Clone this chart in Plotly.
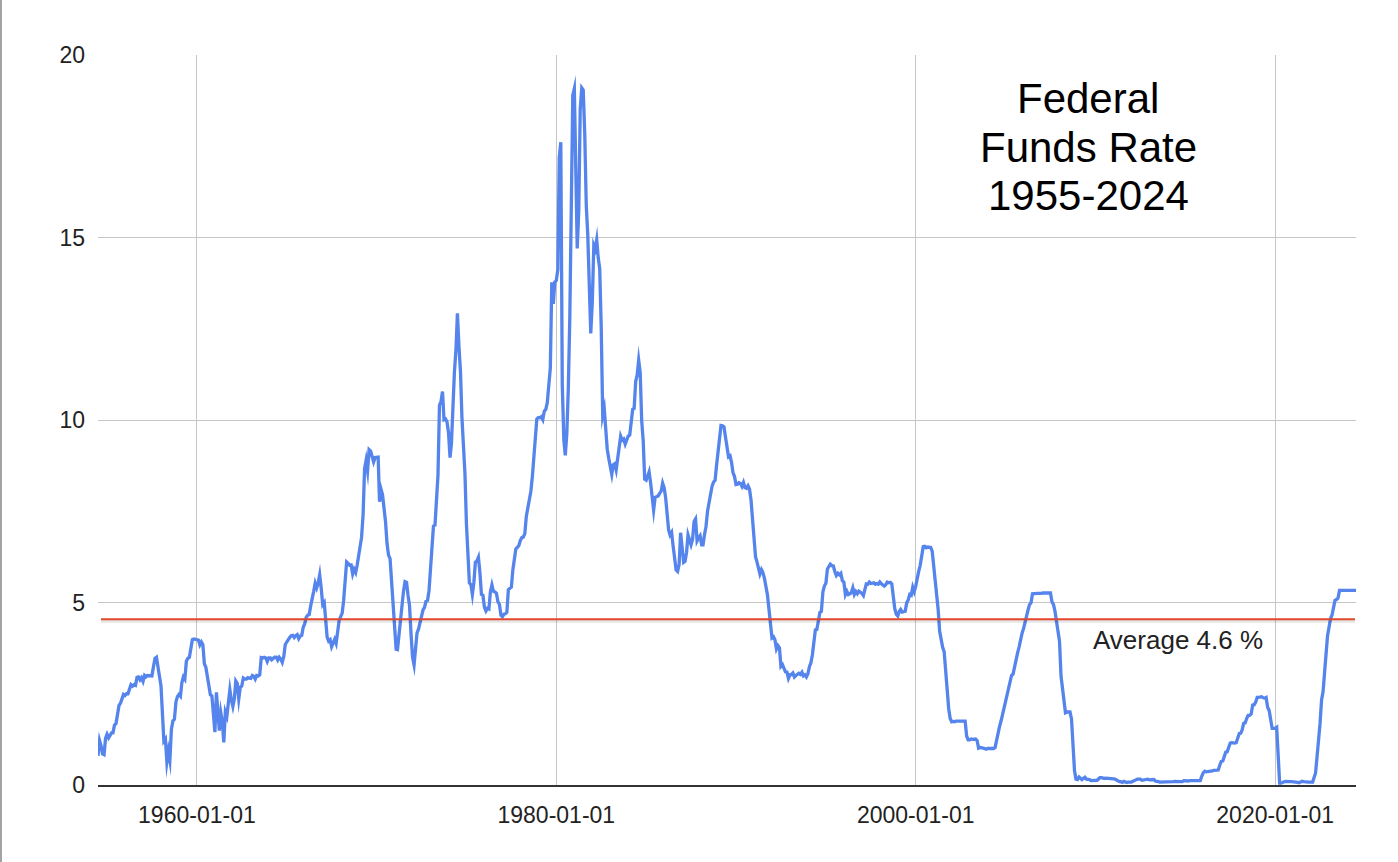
import pandas as pd
import plotly.graph_objects as go

# Monthly effective federal funds rate (%), Jul 1954 - Jul 2024
rate_1950s = [
    0.80, 1.22, 1.07, 0.85, 0.83, 1.28,
    1.39, 1.29, 1.35, 1.43, 1.43, 1.64, 1.68, 1.96, 2.18, 2.24, 2.35, 2.48,
    2.45, 2.50, 2.50, 2.62, 2.75, 2.71, 2.75, 2.73, 2.95, 2.96, 2.88, 2.94,
    2.84, 3.00, 2.96, 3.00, 3.00, 3.00, 2.99, 3.24, 3.47, 3.50, 3.28, 2.98,
    2.72, 1.67, 1.20, 1.26, 0.63, 0.93, 0.68, 1.53, 1.76, 1.80, 2.27, 2.42,
    2.48, 2.43, 2.80, 2.96, 2.90, 3.39, 3.47, 3.50, 3.76, 3.98, 4.00, 3.99]
rate_1960s = [
    3.99, 3.97, 3.84, 3.92, 3.85, 3.32, 3.23, 2.98, 2.60, 2.47, 2.44, 1.98,
    1.45, 2.54, 2.02, 1.49, 1.98, 1.73, 1.17, 2.00, 1.88, 2.26, 2.61, 2.33,
    2.15, 2.37, 2.85, 2.78, 2.36, 2.68, 2.71, 2.93, 2.90, 2.90, 2.94, 2.93,
    2.92, 3.00, 2.98, 2.90, 3.00, 2.99, 3.02, 3.49, 3.48, 3.50, 3.48, 3.38,
    3.48, 3.48, 3.43, 3.47, 3.50, 3.50, 3.42, 3.50, 3.45, 3.36, 3.52, 3.85,
    3.90, 3.98, 4.04, 4.09, 4.10, 4.04, 4.09, 4.12, 4.01, 4.08, 4.10, 4.32,
    4.42, 4.60, 4.65, 4.67, 4.90, 5.17, 5.30, 5.53, 5.40, 5.53, 5.76, 5.40,
    4.94, 5.00, 4.53, 4.05, 3.94, 3.98, 3.79, 3.90, 3.99, 3.88, 4.13, 4.51,
    4.61, 4.71, 5.05, 5.76, 6.11, 6.07, 6.02, 6.03, 5.78, 5.91, 5.82, 6.02,
    6.30, 6.61, 6.79, 7.41, 8.67, 8.90, 8.61, 9.19, 9.15, 9.00, 8.85, 8.97]
rate_1970s = [
    8.98, 8.98, 7.76, 8.10, 7.95, 7.61, 7.21, 6.61, 6.29, 6.20, 5.60, 4.90,
    4.14, 3.72, 3.71, 4.15, 4.63, 4.91, 5.31, 5.57, 5.55, 5.20, 4.91, 4.14,
    3.50, 3.29, 3.83, 4.17, 4.27, 4.46, 4.55, 4.80, 4.87, 5.04, 5.06, 5.33,
    5.94, 6.58, 7.09, 7.12, 7.84, 8.49, 10.40, 10.50, 10.78, 10.01, 10.03, 9.95,
    9.65, 8.97, 9.35, 10.51, 11.31, 11.93, 12.92, 12.01, 11.34, 10.06, 9.45, 8.53,
    7.13, 6.24, 5.54, 5.49, 5.22, 5.55, 6.10, 6.14, 6.24, 5.82, 5.22, 5.20,
    4.87, 4.77, 4.84, 4.82, 5.29, 5.48, 5.31, 5.29, 5.25, 5.02, 4.95, 4.65,
    4.61, 4.68, 4.69, 4.73, 5.35, 5.39, 5.42, 5.90, 6.14, 6.47, 6.51, 6.56,
    6.70, 6.78, 6.79, 6.89, 7.36, 7.60, 7.81, 8.04, 8.45, 8.96, 9.76, 10.03,
    10.07, 10.06, 10.09, 10.01, 10.24, 10.29, 10.47, 10.94, 11.43, 13.77, 13.18, 13.78]
rate_1980s = [
    13.82, 14.13, 17.19, 17.61, 10.98, 9.47, 9.03, 9.61, 10.87, 12.81, 15.85, 18.90,
    19.08, 15.93, 14.70, 15.72, 18.52, 19.10, 19.04, 17.82, 15.87, 15.08, 13.31, 12.37,
    13.22, 14.78, 14.68, 14.94, 14.45, 14.15, 12.59, 10.12, 10.31, 9.71, 9.20, 8.95,
    8.68, 8.51, 8.77, 8.80, 8.63, 8.98, 9.37, 9.56, 9.45, 9.48, 9.34, 9.47,
    9.56, 9.59, 9.91, 10.29, 10.32, 11.06, 11.23, 11.64, 11.30, 9.99, 9.43, 8.38,
    8.35, 8.50, 8.58, 8.27, 7.97, 7.53, 7.88, 7.90, 7.92, 7.99, 8.05, 8.27,
    8.14, 7.86, 7.48, 6.99, 6.85, 6.92, 6.56, 6.17, 5.89, 5.85, 6.04, 6.91,
    6.43, 6.10, 6.13, 6.37, 6.85, 6.73, 6.58, 6.73, 7.22, 7.29, 6.69, 6.77,
    6.83, 6.58, 6.58, 6.87, 7.09, 7.51, 7.75, 8.01, 8.19, 8.30, 8.35, 8.76,
    9.12, 9.36, 9.85, 9.84, 9.81, 9.53, 9.24, 8.99, 9.02, 8.84, 8.55, 8.45]
rate_1990s = [
    8.23, 8.24, 8.28, 8.26, 8.18, 8.29, 8.15, 8.13, 8.20, 8.11, 7.81, 7.31,
    6.91, 6.25, 6.12, 5.91, 5.78, 5.90, 5.82, 5.66, 5.45, 5.21, 4.81, 4.43,
    4.03, 4.06, 3.98, 3.73, 3.82, 3.76, 3.25, 3.30, 3.22, 3.10, 3.09, 2.92,
    3.02, 3.03, 3.07, 2.96, 3.00, 3.04, 3.06, 3.03, 3.09, 2.99, 3.02, 2.96,
    3.05, 3.25, 3.34, 3.56, 4.01, 4.25, 4.26, 4.47, 4.73, 4.76, 5.29, 5.45,
    5.53, 5.92, 5.98, 6.05, 6.01, 6.00, 5.85, 5.74, 5.80, 5.76, 5.80, 5.60,
    5.56, 5.22, 5.31, 5.22, 5.24, 5.27, 5.40, 5.22, 5.30, 5.24, 5.31, 5.29,
    5.25, 5.19, 5.39, 5.51, 5.50, 5.56, 5.52, 5.54, 5.54, 5.50, 5.52, 5.50,
    5.56, 5.51, 5.49, 5.45, 5.49, 5.56, 5.54, 5.55, 5.51, 5.07, 4.83, 4.68,
    4.63, 4.76, 4.81, 4.74, 4.74, 4.76, 4.99, 5.07, 5.22, 5.20, 5.42, 5.30]
rate_2000s = [
    5.45, 5.73, 5.85, 6.02, 6.27, 6.53, 6.54, 6.50, 6.52, 6.51, 6.51, 6.40,
    5.98, 5.49, 5.31, 4.80, 4.21, 3.97, 3.77, 3.65, 3.07, 2.49, 2.09, 1.82,
    1.73, 1.74, 1.73, 1.75, 1.75, 1.75, 1.73, 1.74, 1.75, 1.75, 1.34, 1.24,
    1.24, 1.26, 1.25, 1.26, 1.26, 1.22, 1.01, 1.03, 1.01, 1.01, 1.00, 0.98,
    1.00, 1.01, 1.00, 1.00, 1.00, 1.03, 1.26, 1.43, 1.61, 1.76, 1.93, 2.16,
    2.28, 2.50, 2.63, 2.79, 3.00, 3.04, 3.26, 3.50, 3.62, 3.78, 4.00, 4.16,
    4.29, 4.49, 4.59, 4.79, 4.94, 4.99, 5.24, 5.25, 5.25, 5.25, 5.25, 5.24,
    5.25, 5.26, 5.26, 5.25, 5.25, 5.25, 5.26, 5.02, 4.94, 4.76, 4.49, 4.24,
    3.94, 2.98, 2.61, 2.28, 1.98, 2.00, 2.01, 2.00, 1.81, 0.97, 0.39, 0.16,
    0.15, 0.22, 0.18, 0.15, 0.18, 0.21, 0.16, 0.16, 0.15, 0.12, 0.12, 0.12]
rate_2010s = [
    0.11, 0.13, 0.16, 0.20, 0.20, 0.18, 0.18, 0.19, 0.19, 0.19, 0.19, 0.18,
    0.17, 0.16, 0.14, 0.10, 0.09, 0.09, 0.07, 0.10, 0.08, 0.07, 0.08, 0.07,
    0.08, 0.10, 0.13, 0.14, 0.16, 0.16, 0.16, 0.13, 0.14, 0.16, 0.16, 0.16,
    0.14, 0.15, 0.14, 0.15, 0.11, 0.09, 0.09, 0.08, 0.08, 0.09, 0.08, 0.09,
    0.07, 0.07, 0.08, 0.09, 0.09, 0.10, 0.09, 0.09, 0.09, 0.09, 0.09, 0.12,
    0.11, 0.11, 0.11, 0.12, 0.12, 0.13, 0.13, 0.14, 0.14, 0.12, 0.12, 0.24,
    0.34, 0.38, 0.36, 0.37, 0.37, 0.38, 0.39, 0.40, 0.40, 0.40, 0.41, 0.54,
    0.65, 0.66, 0.79, 0.90, 0.91, 1.04, 1.15, 1.16, 1.15, 1.15, 1.16, 1.30,
    1.41, 1.42, 1.51, 1.69, 1.70, 1.82, 1.91, 1.91, 1.95, 2.19, 2.20, 2.27,
    2.40, 2.40, 2.41, 2.42, 2.39, 2.38, 2.40, 2.13, 2.04, 1.83, 1.55, 1.55]
rate_2020s = [
    1.55, 1.58, 0.65, 0.05, 0.05, 0.08, 0.09, 0.10, 0.09, 0.09, 0.09, 0.09,
    0.09, 0.08, 0.07, 0.07, 0.06, 0.08, 0.10, 0.09, 0.08, 0.08, 0.08, 0.08,
    0.08, 0.08, 0.20, 0.33, 0.77, 1.21, 1.68, 2.33, 2.56, 3.08, 3.78, 4.10,
    4.33, 4.57, 4.65, 4.83, 5.06, 5.08, 5.12, 5.33, 5.33, 5.33, 5.33, 5.33,
    5.33, 5.33, 5.33, 5.33, 5.33, 5.33, 5.33]

start_month = "1954-07-01"
x_tick_vals = ["1960-01-01", "1980-01-01", "2000-01-01", "2020-01-01"]
y_tick_vals = [0, 5, 10, 15, 20]
average_value = 4.54
average_label = "Average 4.6 %"
title_lines = ["Federal", "Funds Rate", "1955-2024"]

rates = (rate_1950s + rate_1960s + rate_1970s + rate_1980s +
         rate_1990s + rate_2000s + rate_2010s + rate_2020s)
dates = pd.date_range(start_month, periods=len(rates), freq="MS")

FONT = "Liberation Sans, Arial, Helvetica, sans-serif"

fig = go.Figure()
fig.add_trace(go.Scatter(
    x=dates, y=rates, mode="lines",
    line=dict(color="#5484ec", width=3.3),
    hoverinfo="x+y", showlegend=False,
))

W, H = 1398, 862
ML, MR, MT, MB = 98, 42, 55, 77
pw, ph = W - ML - MR, H - MT - MB

def px_x(p):
    return (p - ML) / pw

def px_y(p):
    return (H - MB - p) / ph

shapes = [
    # soft shadow under average line
    dict(type="line", xref="paper", yref="y", x0=px_x(101), x1=px_x(1355),
         y0=average_value - 0.055, y1=average_value - 0.055,
         line=dict(color="rgba(0,0,0,0.10)", width=3), layer="above"),
    dict(type="line", xref="paper", yref="y", x0=px_x(101), x1=px_x(1355),
         y0=average_value, y1=average_value,
         line=dict(color="#e2472c", width=2), layer="above"),
    # left page border
    dict(type="line", xref="paper", yref="paper", x0=px_x(1), x1=px_x(1),
         y0=px_y(H + 2), y1=px_y(-2), line=dict(color="#a3a3a3", width=2)),
]

annotations = []
for txt, cy in zip(title_lines, [99, 147, 195]):
    annotations.append(dict(
        text=txt, xref="paper", yref="paper", x=px_x(1088), y=px_y(cy),
        xanchor="center", yanchor="middle", showarrow=False,
        font=dict(family=FONT, size=42, color="#000000")))
annotations.append(dict(
    text=average_label, xref="paper", yref="paper", x=px_x(1091), y=px_y(640),
    xanchor="left", yanchor="middle", showarrow=False,
    font=dict(family=FONT, size=26, color="#222222")))

fig.update_layout(
    width=W, height=H, autosize=False,
    margin=dict(l=ML, r=MR, t=MT, b=MB, pad=0),
    paper_bgcolor="white", plot_bgcolor="white",
    font=dict(family=FONT, color="#222222"),
    shapes=shapes, annotations=annotations,
    showlegend=False,
    xaxis=dict(
        type="date", range=[dates[0], dates[-1]],
        tickvals=x_tick_vals, ticktext=x_tick_vals,
        showgrid=True, gridcolor="#c6c6c6", gridwidth=1.4,
        showline=True, linecolor="#333333", linewidth=2,
        zeroline=False, ticks="", ticklabelstandoff=8,
        tickfont=dict(family=FONT, size=23, color="#222222"),
    ),
    yaxis=dict(
        range=[0, 20], tickvals=y_tick_vals,
        ticktext=[str(v) for v in y_tick_vals],
        showgrid=True, gridcolor="#c6c6c6", gridwidth=1.4,
        zeroline=False, showline=False, ticks="", ticklabelstandoff=12,
        tickfont=dict(family=FONT, size=23, color="#222222"),
    ),
)

post = (
    "document.body.style.margin='0';document.body.style.overflow='hidden';"
    "document.querySelectorAll('.scatterlayer path.js-line').forEach(function(p){"
    "p.style.strokeLinejoin='miter';p.style.strokeMiterlimit='10';});"
)

fig.write_html("out.html", config={"displayModeBar": False}, post_script=post)
